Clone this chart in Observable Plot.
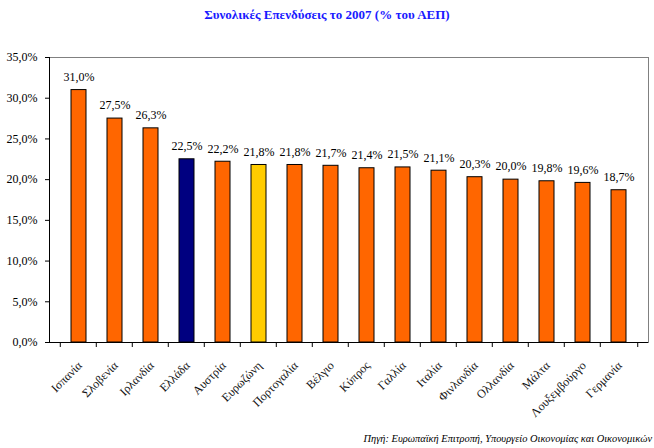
<!DOCTYPE html>
<html><head><meta charset="utf-8">
<script src="https://cdn.jsdelivr.net/npm/d3@7"></script>
<script src="https://cdn.jsdelivr.net/npm/@observablehq/plot@0.6"></script>
<style>
body{margin:0;background:#fff;width:654px;height:448px;overflow:hidden;font-family:"Liberation Serif",serif;}
#title{height:30px;line-height:29px;text-align:center;color:#1a1aff;font-weight:bold;font-size:13px;}
#caption{height:18px;line-height:18px;text-align:right;font-style:italic;font-size:10.4px;padding-right:2px;color:#000;}
svg{display:block;}
</style></head><body>
<div id="title">Συνολικές Επενδύσεις το 2007 (% του ΑΕΠ)</div>
<div id="chart"></div>
<div id="caption">Πηγή: Ευρωπαϊκή Επιτροπή, Υπουργείο Οικονομίας και Οικονομικών</div>
<script>
const categories = ["Ισπανία","Σλοβενία","Ιρλανδία","Ελλάδα","Αυστρία","Ευρωζώνη","Πορτογαλία","Βέλγιο","Κύπρος","Γαλλία","Ιταλία","Φινλανδία","Ολλανδία","Μάλτα","Λουξεμβούργο","Γερμανία"];
const values = [31.0,27.5,26.3,22.5,22.2,21.8,21.8,21.7,21.4,21.5,21.1,20.3,20.0,19.8,19.6,18.7];
const yTicks = [0,5,10,15,20,25,30,35];

const data = categories.map((c,i)=>({country:c, value:values[i]}));
const fmt = v => v.toFixed(1).replace(".", ",") + "%";
const barColor = d => d.country === "Ελλάδα" ? "#000080" : d.country === "Ευρωζώνη" ? "#ffcc00" : "#ff6600";
const W=654, H=400, mL=49, mR=6, mT=27, mB=88;
const step = (W-mL-mR)/categories.length;
const last = categories[categories.length-1];

const plot = Plot.plot({
  width: W, height: H, marginLeft: mL, marginRight: mR, marginTop: mT, marginBottom: mB,
  style: {fontFamily: "Liberation Serif", fontSize: "12px", color: "#000", background: "#fff", overflow: "visible"},
  x: {domain: categories, padding: 0.57, label: null, axis: null},
  y: {domain: [0,35], label: null, axis: null},
  color: {type: "identity"},
  marks: [
    Plot.frame({stroke: "#808080"}),
    Plot.axisY({ticks: yTicks, tickFormat: fmt, tickSize: 4, tickPadding: 8, label: null, stroke: "#000", fontSize: 12}),
    Plot.axisX({tickSize: 0, tickRotate: -45, tickPadding: 21, dx: 1, label: null, fill: "#111", fontSize: 12}),
    Plot.ruleY([0], {stroke: "#000"}),
    Plot.frame({anchor: "left", stroke: "#000"}),
    Plot.ruleX(categories, {x: d=>d, y1: 0, y2: 0, insetBottom: -5, dx: -step/2, stroke: "#000"}),
    Plot.ruleX([last], {x: d=>d, y1: 0, y2: 0, insetBottom: -5, dx: step/2, stroke: "#000"}),
    Plot.barY(data, {x: "country", y: "value", fill: barColor, stroke: "#000", strokeWidth: 1}),
    Plot.text(data, {x: "country", y: "value", text: d=>fmt(d.value), dy: -13, fontSize: 12, fill: "#000"})
  ]
});
document.getElementById("chart").appendChild(plot);
</script>
</body></html>
